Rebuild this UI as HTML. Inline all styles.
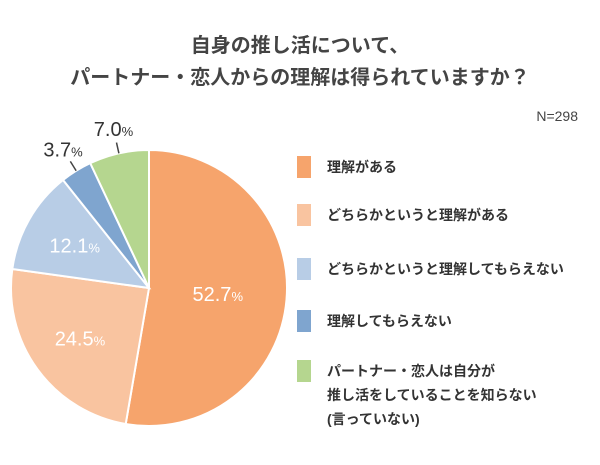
<!DOCTYPE html>
<html><head><meta charset="utf-8"><style>
body{margin:0;background:#fff;width:600px;height:460px;overflow:hidden;font-family:"Liberation Sans","Noto Sans CJK JP",sans-serif}
</style></head><body>
<svg width="600" height="460">
<text x="300" y="52" text-anchor="middle" font-size="20" font-weight="bold" fill="#444" font-family="Liberation Sans, Noto Sans CJK JP, sans-serif">自身の推し活について、</text>
<text x="300" y="84" text-anchor="middle" font-size="20" font-weight="bold" fill="#444" font-family="Liberation Sans, Noto Sans CJK JP, sans-serif">パートナー・恋人からの理解は得られていますか？</text>
<text x="578" y="121" text-anchor="end" font-size="14" fill="#444">N=298</text>
<g id="pie"></g>
<g id="legend"></g>
</svg>
<script>
const categories=["理解がある","どちらかというと理解がある","どちらかというと理解してもらえない","理解してもらえない","パートナー・恋人は自分が|推し活をしていることを知らない|(言っていない)"];
const values=[52.7,24.5,12.1,3.7,7.0];
const labels=["52.7","24.5","12.1","3.7","7.0"];
const colors=["#f6a46c","#f9c4a0","#b8cde6","#7fa5cf","#b5d68f"];
const NS="http://www.w3.org/2000/svg";
const cx=149,cy=288,r=138;
const pie=document.getElementById('pie'),leg=document.getElementById('legend');
const total=values.reduce((a,b)=>a+b,0);
let a0=0;
function pt(a,rr){return [cx+rr*Math.sin(a),cy-rr*Math.cos(a)];}
values.forEach((v,i)=>{
 const a1=a0+v/total*2*Math.PI;
 const p0=pt(a0,r),p1=pt(a1,r);
 const path=document.createElementNS(NS,'path');
 path.setAttribute('d',`M${cx},${cy}L${p0[0]},${p0[1]}A${r},${r} 0 ${a1-a0>Math.PI?1:0} 1 ${p1[0]},${p1[1]}Z`);
 path.setAttribute('fill',colors[i]);path.setAttribute('stroke','#fff');path.setAttribute('stroke-width','2');
 
 
 pie.appendChild(path);
 const mid=(a0+a1)/2;
 const inside=v>10;
 const lp=pt(mid,inside?r*(v>40?0.5:0.62):r*1.18);
 const t=document.createElementNS(NS,'text');
 t.setAttribute('x',lp[0]);t.setAttribute('y',lp[1]+7);t.setAttribute('text-anchor','middle');
 t.setAttribute('font-size','20');t.setAttribute('fill',inside?'#fff':'#333');
 t.innerHTML=labels[i]+'<tspan font-size="13">%</tspan>';
 
 
 pie.appendChild(t);
 if(!inside){const q0=pt(mid,r*1.0),q1=pt(mid,r*1.08);
  const l=document.createElementNS(NS,'line');
  l.setAttribute('x1',q0[0]);l.setAttribute('y1',q0[1]);l.setAttribute('x2',q1[0]);l.setAttribute('y2',q1[1]);
  l.setAttribute('stroke','#444');l.setAttribute('stroke-width','1.5');
  
  
  pie.appendChild(l);}
 a0=a1;
});
const ly=[166,214,268,320,370];
categories.forEach((c,i)=>{
 const g=document.createElementNS(NS,'g');
 
 
 const rc=document.createElementNS(NS,'rect');
 rc.setAttribute('x',297);rc.setAttribute('y',ly[i]-10);rc.setAttribute('width',14);rc.setAttribute('height',22);rc.setAttribute('fill',colors[i]);
 g.appendChild(rc);
 c.split('|').forEach((s,j)=>{
  const t=document.createElementNS(NS,'text');
  t.setAttribute('x',327);t.setAttribute('y',ly[i]+6+j*24);t.setAttribute('font-size','14');t.setAttribute('font-weight','bold');t.setAttribute('fill','#333');
  t.textContent=s;g.appendChild(t);
 });
 leg.appendChild(g);
});
</script>
</body></html>
